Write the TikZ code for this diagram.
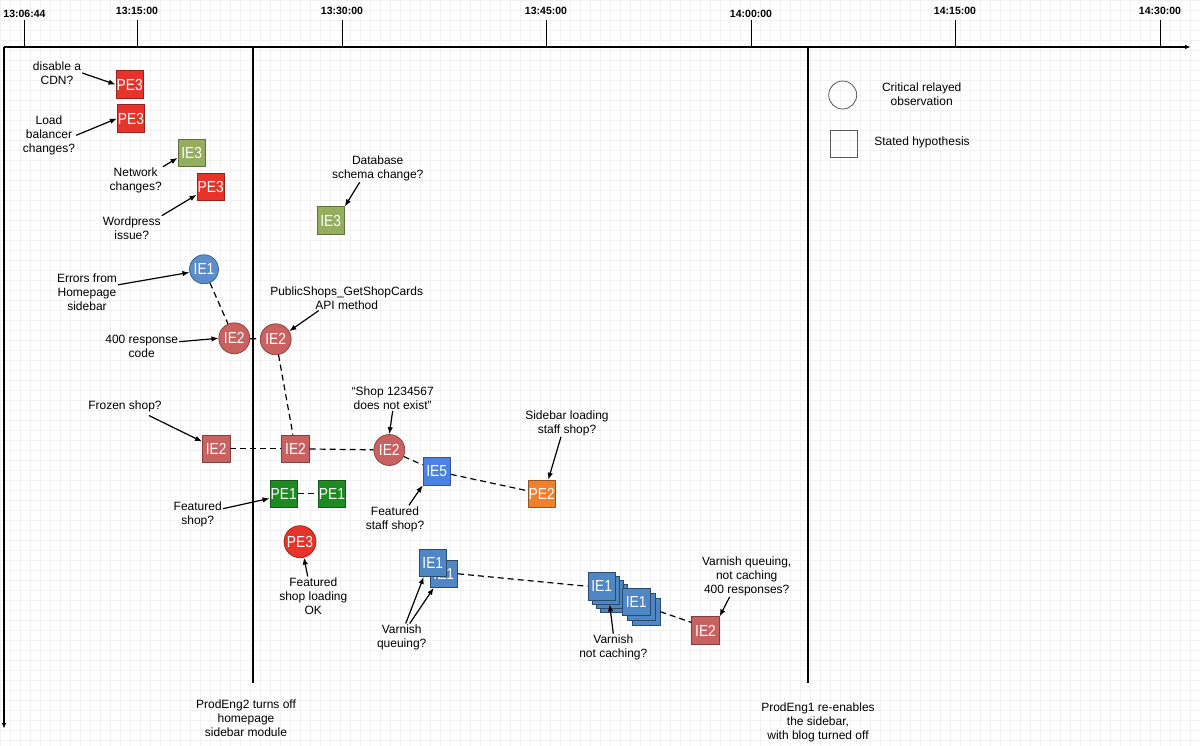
\documentclass[tikz,border=0pt]{standalone}
\usepackage{fontspec}
\setmainfont{Liberation Sans}
\newfontfamily\lblf[FakeStretch=0.86]{Liberation Sans}
\usetikzlibrary{arrows.meta,calc}
\definecolor{cRed}{HTML}{E8332B}
\definecolor{cOlive}{HTML}{94AD5E}
\definecolor{cRose}{HTML}{C8615F}
\definecolor{cSteel}{HTML}{5B8DCA}
\definecolor{cBlue}{HTML}{4C82E4}
\definecolor{cGreen}{HTML}{1E8A22}
\definecolor{cOrange}{HTML}{F07F2E}
\definecolor{cStack}{HTML}{4F86C4}
\definecolor{cGrid}{HTML}{F1F1F1}
\begin{document}
\begin{tikzpicture}[x=1pt,y=-1pt,
  ann/.style={align=center,font=\fontsize{12}{14}\selectfont,inner sep=1pt},
  axl/.style={font=\bfseries\fontsize{10.5}{12}\selectfont,inner sep=0pt},
  shp/.style={inner sep=0pt,text=white,font=\lblf\fontsize{16}{16}\selectfont,line width=0.7pt},
  sq/.style={shp,rectangle,minimum size=27.5pt},
  circ/.style={shp,circle,minimum size=31pt},
  cred/.style={fill=cRed,draw=cRed!65!black},
  colive/.style={fill=cOlive,draw=cOlive!65!black},
  crose/.style={fill=cRose,draw=cRose!65!black},
  csteel/.style={fill=cSteel,draw=cSteel!65!black},
  cblue/.style={fill=cBlue,draw=cBlue!65!black},
  cgreen/.style={fill=cGreen,draw=cGreen!65!black},
  corange/.style={fill=cOrange,draw=cOrange!65!black},
  cstack/.style={fill=cStack,draw=cStack!55!black},
  arr/.style={-{Latex[length=7pt,width=5.5pt]},line width=1.2pt},
  dsh/.style={line width=1.2pt,dash pattern=on 6pt off 4pt},
  evline/.style={line width=1.2pt},
  tick/.style={line width=0.9pt},
  axis/.style={line width=1.2pt,-{Latex[length=6pt,width=4.5pt]}}
]
\useasboundingbox (0,0) rectangle (1200,746);
\fill[white] (0,0) rectangle (1200,746);
% faint background grid
\foreach \gx in {0,10,...,1200} {\draw[cGrid,line width=0.4pt] (\gx,0) -- (\gx,746);}
\foreach \gy in {0,10,...,740} {\draw[cGrid,line width=0.4pt] (0,\gy) -- (1200,\gy);}

% axes
\coordinate (o) at (4,47);
\coordinate (xe) at (1191,47);
\coordinate (ye) at (4,729);
\draw[axis] (o) -- (xe);
\draw[axis] (o) -- (ye);
\foreach \x/\t/\ly [count=\i] in {24.5/13:06:44/13.5, 137/13:15:00/11, 342/13:30:00/11, 546/13:45:00/11, 751/14:00:00/13.5, 955/14:15:00/11, 1160/14:30:00/11} {
  \node[axl] (tl\i) at (\x,\ly) {\t};
  \draw[tick] (\x,20) -- (\x,47);
}

% event lines
\draw[evline] (253,47) -- (253,683);
\draw[evline] (808,47) -- (808,683);
\node[ann] (tProd2) at (246,718) {ProdEng2 turns off\\homepage\\sidebar module};
\node[ann] (tProd1) at (818,722) {ProdEng1 re-enables\\the sidebar,\\with blog turned off};

% legend
\node[circle,draw=black!65,line width=0.8pt,minimum size=28pt,inner sep=0pt] (legC) at (842.7,95) {};
\node[ann] (tLegC) at (921.7,94) {Critical relayed\\observation};
\node[rectangle,draw=black!65,line width=0.8pt,minimum size=27pt,inner sep=0pt] (legS) at (843.5,144) {};
\node[ann] (tLegS) at (922,142) {Stated hypothesis};

% top-left hypotheses
\node[sq,cred] (pe3a) at (129.7,84.5) {PE3};
\node[sq,cred] (pe3b) at (131,118.5) {PE3};
\node[sq,colive] (ie3a) at (191.7,152.8) {IE3};
\node[sq,cred] (pe3c) at (210.7,187) {PE3};
\node[sq,colive] (ie3b) at (330.7,220.5) {IE3};
\node[ann] (tCDN) at (57,73) {disable a\\CDN?};
\node[ann] (tLB) at (49,135.3) {Load\\balancer\\changes?};
\node[ann] (tNet) at (135.7,180.5) {Network\\changes?};
\node[ann] (tWP) at (131.7,228.3) {Wordpress\\issue?};
\node[ann] (tDB) at (377.7,168.5) {Database\\schema change?};
\draw[arr] (tCDN.east) -- (pe3a.west);
\draw[arr] (tLB.east) -- (pe3b.west);
\draw[arr] (tNet.north east) -- (ie3a.200);
\draw[arr] (tWP.north east) -- (pe3c.209);
\draw[arr] ($(tDB.south)+(-18,0)$) -- (ie3b.north east);

% observations chain
\node[circ,csteel,minimum size=29pt] (ie1) at (204,269.3) {IE1};
\node[circ,crose] (ie2a) at (234.3,338.3) {IE2};
\node[circ,crose] (ie2b) at (275.7,339.3) {IE2};
\node[sq,crose] (ie2s1) at (216.2,448.8) {IE2};
\node[sq,crose] (ie2s2) at (295.5,448.8) {IE2};
\node[circ,crose] (ie2c3) at (389.3,450) {IE2};
\node[sq,cblue] (ie5) at (436.7,471.3) {IE5};
\node[sq,corange] (pe2) at (541.7,493.8) {PE2};
\node[sq,cgreen] (pe1a) at (283.7,493.8) {PE1};
\node[sq,cgreen] (pe1b) at (332,493.8) {PE1};
\node[circ,cred,minimum size=32pt] (pe3d) at (300,541.7) {PE3};

\draw[dsh] (ie1) -- (ie2a);
\draw[dsh] (ie2a) -- (ie2b);
\draw[dsh] (ie2b) -- (ie2s2);
\draw[dsh] (ie2s1) -- (ie2s2);
\draw[dsh] (ie2s2) -- (ie2c3);
\draw[dsh] (ie2c3) -- (ie5);
\draw[dsh] (ie5) -- (pe2);
\draw[dsh] (pe1a) -- (pe1b);

\node[ann] (tErr) at (87,291.8) {Errors from\\Homepage\\sidebar};
\node[ann] (t400) at (141.7,346.7) {400 response\\code};
\node[ann] (tPS) at (346.7,298) {PublicShops\_GetShopCards\\API method};
\node[ann] (tFrozen) at (125,406.7) {Frozen shop?};
\node[ann] (tShop) at (392.7,398.3) {“Shop 1234567\\does not exist”};
\node[ann] (tSide) at (567,423) {Sidebar loading\\staff shop?};
\node[ann] (tFS) at (395,519) {Featured\\staff shop?};
\node[ann] (tFeat) at (197.7,514.7) {Featured\\shop?};
\node[ann] (tFSO) at (313.3,596) {Featured\\shop loading\\OK};
\draw[arr] ($(tErr.east)+(0,-7)$) -- (ie1.192);
\draw[arr] ($(t400.east)+(0,-5)$) -- (ie2a.west);
\draw[arr] ($(tPS.south)+(-28,0)$) -- (ie2b.31);
\draw[arr] ($(tFrozen.south east)+(-14,2)$) -- (ie2s1.153);
\draw[arr] (tShop.south) -- (ie2c3.north);
\draw[arr] ($(tSide.south)+(-6,0)$) -- (pe2.65);
\draw[arr] ($(tFS.north)+(14,0)$) -- (ie5.south west);
\draw[arr] ($(tFeat.east)+(0,-6)$) -- (pe1a.198);
\draw[arr] ($(tFSO.north)+(-5.6,0)$) -- (pe3d.284);

% varnish stacks
\node[sq,cstack] (ie1b) at (443.8,573.8) {IE1};
\node[sq,cstack] (ie1f) at (432.8,562.8) {IE1};
\node[sq,cstack] (gA3) at (613.7,598.3) {};
\node[sq,cstack] (gA2) at (609.7,594.3) {};
\node[sq,cstack] (gA1) at (605.7,590.3) {};
\node[sq,cstack] (gA0) at (601.7,586.3) {IE1};
\node[sq,cstack] (gB2) at (646.2,611.7) {};
\node[sq,cstack] (gB1) at (641.2,606.7) {};
\node[sq,cstack] (gB0) at (636.2,601.7) {IE1};
\node[sq,crose] (ie2s3) at (705.5,630.5) {IE2};
\draw[dsh] (ie1b.east) -- (gA0.west);
\draw[dsh] (gB2.east) -- (ie2s3.150);

\node[ann] (tVQ) at (401.7,637.3) {Varnish\\queuing?};
\node[ann] (tVNC) at (613.3,647.5) {Varnish\\not caching?};
\node[ann] (tVQN) at (746.7,576) {Varnish queuing,\\not caching\\400 responses?};
\draw[arr] ($(tVQ.north)+(4,0)$) -- ($(ie1f.south west)+(5,0)$);
\draw[arr] ($(tVQ.north)+(8,0)$) -- ($(ie1b.south west)+(4,0)$);
\draw[arr] (tVNC.north) -- ($(gA1.south)+(4,0)$);
\draw[arr] ($(tVQN.south)+(-17,0)$) -- (ie2s3.north east);
\end{tikzpicture}
\end{document}
